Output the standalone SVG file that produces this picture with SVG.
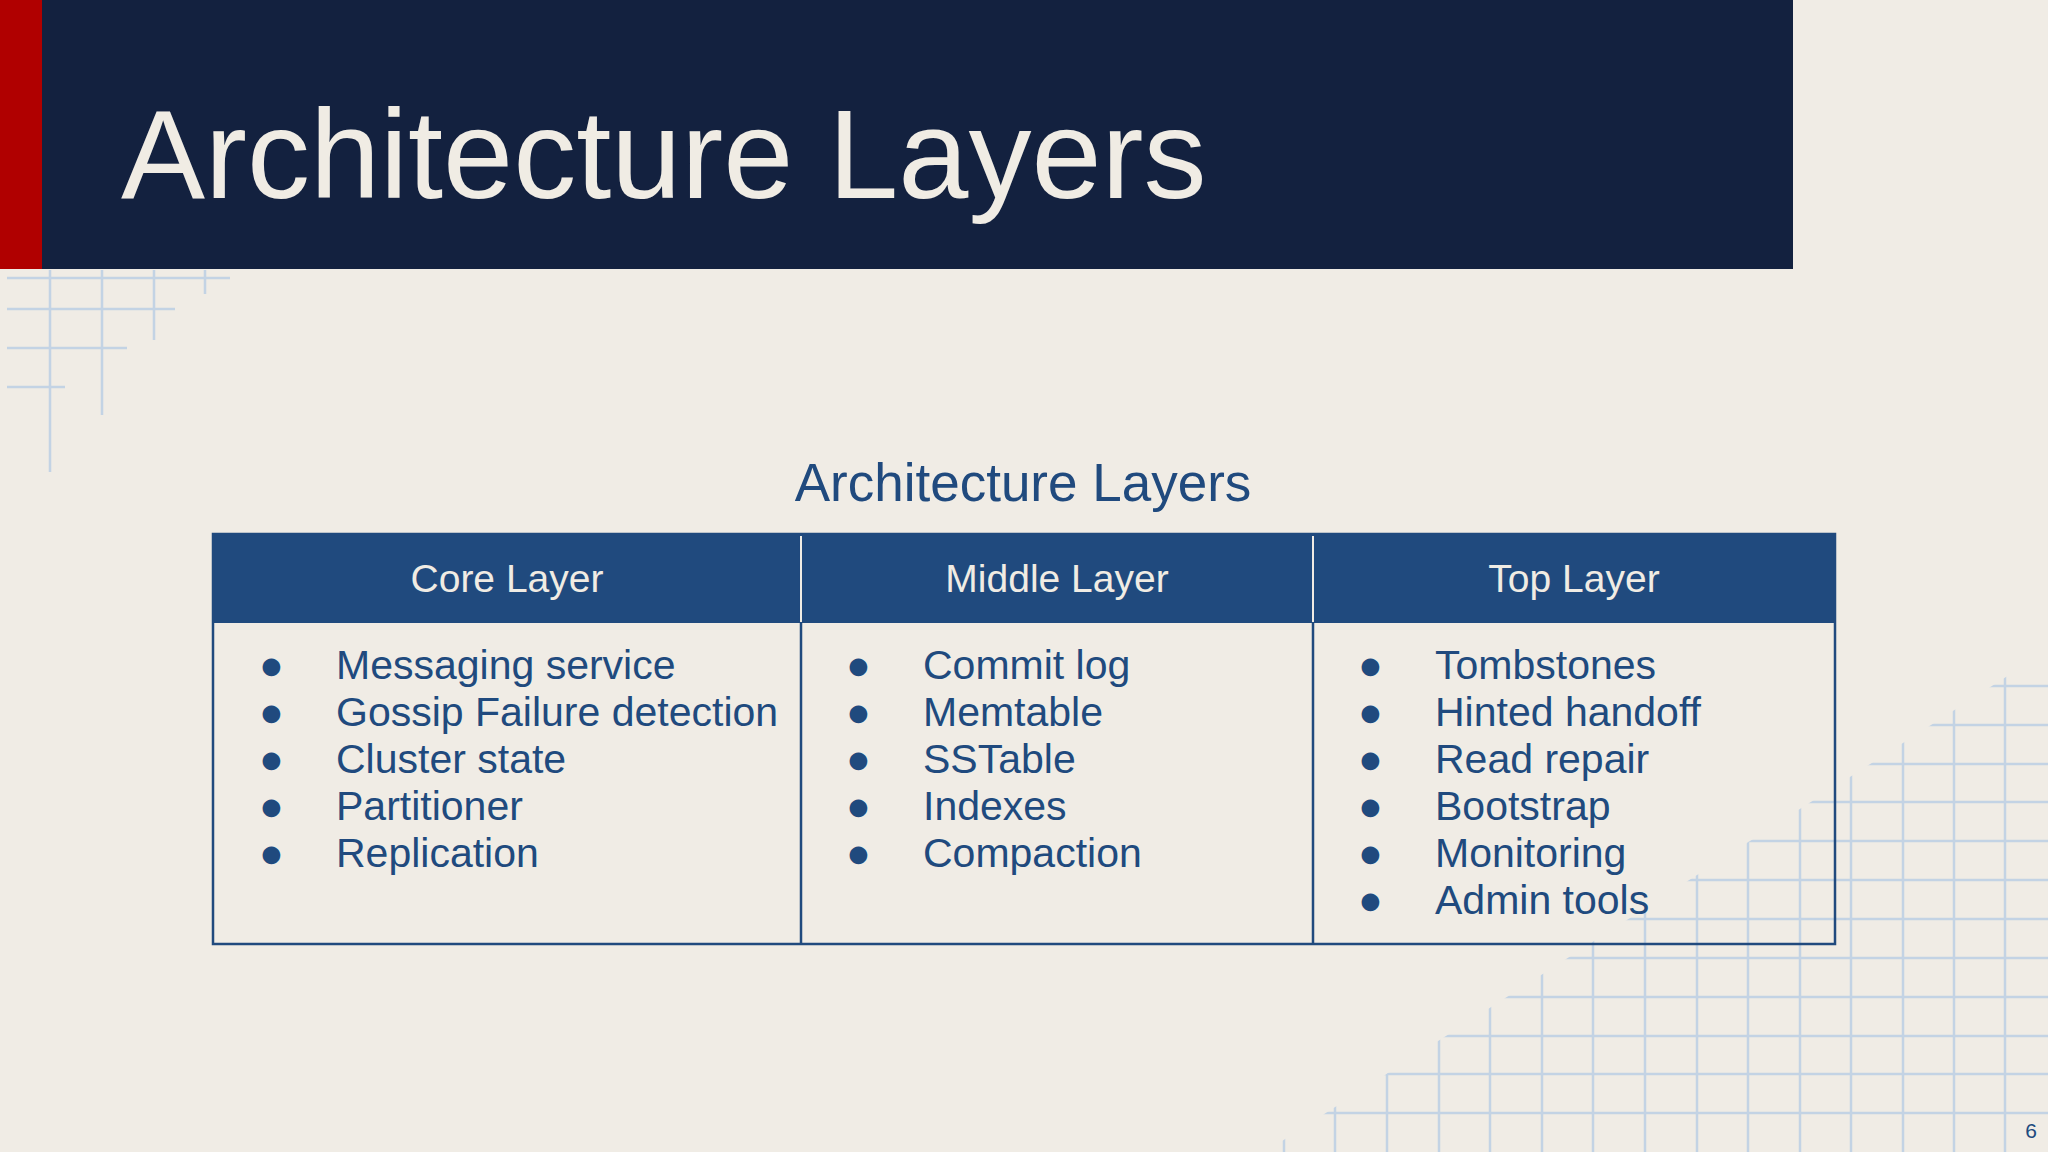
<svg xmlns="http://www.w3.org/2000/svg" width="2048" height="1152" viewBox="0 0 2048 1152">
<defs>
<style>
.g{stroke:#c3d3e4;stroke-width:2.5;fill:none}
.t{font-family:"Liberation Sans",Arial,sans-serif}
.b{font-family:"Liberation Sans",Arial,sans-serif;font-size:41px;fill:#204a7e}
.h{font-family:"Liberation Sans",Arial,sans-serif;font-size:39px;fill:#f0ece4;text-anchor:middle}
</style>
<clipPath id="br"><polygon points="1265,1152 2048,650 2048,1152"/></clipPath>
</defs>
<rect width="2048" height="1152" fill="#f0ece5"/>
<g id="grid-tl" class="g">
<line x1="50" y1="270" x2="50" y2="472"/>
<line x1="102" y1="270" x2="102" y2="415"/>
<line x1="154" y1="270" x2="154" y2="340"/>
<line x1="205" y1="270" x2="205" y2="294"/>
<line x1="7" y1="278" x2="230" y2="278"/>
<line x1="7" y1="309" x2="175" y2="309"/>
<line x1="7" y1="348" x2="127" y2="348"/>
<line x1="7" y1="387" x2="65" y2="387"/>
</g>
<g id="grid-br" class="g" clip-path="url(#br)">
<line x1="1284" y1="600" x2="1284" y2="1152"/><line x1="1335" y1="600" x2="1335" y2="1152"/><line x1="1387" y1="600" x2="1387" y2="1152"/><line x1="1439" y1="600" x2="1439" y2="1152"/><line x1="1490" y1="600" x2="1490" y2="1152"/><line x1="1542" y1="600" x2="1542" y2="1152"/><line x1="1593" y1="600" x2="1593" y2="1152"/><line x1="1645" y1="600" x2="1645" y2="1152"/><line x1="1697" y1="600" x2="1697" y2="1152"/><line x1="1748" y1="600" x2="1748" y2="1152"/><line x1="1800" y1="600" x2="1800" y2="1152"/><line x1="1851" y1="600" x2="1851" y2="1152"/><line x1="1903" y1="600" x2="1903" y2="1152"/><line x1="1954" y1="600" x2="1954" y2="1152"/><line x1="2005" y1="600" x2="2005" y2="1152"/>
<line x1="1200" y1="1113" x2="2048" y2="1113"/><line x1="1200" y1="1074" x2="2048" y2="1074"/><line x1="1200" y1="1036" x2="2048" y2="1036"/><line x1="1200" y1="997" x2="2048" y2="997"/><line x1="1200" y1="958" x2="2048" y2="958"/><line x1="1200" y1="919" x2="2048" y2="919"/><line x1="1200" y1="880" x2="2048" y2="880"/><line x1="1200" y1="841" x2="2048" y2="841"/><line x1="1200" y1="802" x2="2048" y2="802"/><line x1="1200" y1="764" x2="2048" y2="764"/><line x1="1200" y1="725" x2="2048" y2="725"/><line x1="1200" y1="686" x2="2048" y2="686"/>
</g>
<g id="header">
<rect x="0" y="0" width="42" height="269" fill="#b00000"/>
<rect x="42" y="0" width="1751" height="269" fill="#13213f"/>
<text class="t" x="121" y="198" font-size="126" fill="#f0ece4">Architecture Layers</text>
</g>
<g id="subtitle"><text class="t" x="1023" y="501" font-size="53" fill="#204a7e" text-anchor="middle">Architecture Layers</text></g>
<g id="table">
<rect x="213" y="534" width="1622" height="89" fill="#204a7e"/>
<rect x="213" y="534" width="1622" height="410" fill="none" stroke="#204a7e" stroke-width="2.5"/>
<line x1="801" y1="534" x2="801" y2="944" stroke="#204a7e" stroke-width="2.5"/>
<line x1="1313" y1="534" x2="1313" y2="944" stroke="#204a7e" stroke-width="2.5"/>
<line x1="801" y1="536" x2="801" y2="622" stroke="#f0ece4" stroke-width="2"/>
<line x1="1313" y1="536" x2="1313" y2="622" stroke="#f0ece4" stroke-width="2"/>
</g>
<g id="col-core">
<text class="h" x="507" y="592">Core Layer</text>
<g class="b"><text x="259" y="679">●</text><text x="259" y="726">●</text><text x="259" y="773">●</text><text x="259" y="820">●</text><text x="259" y="867">●</text></g>
<text class="b" x="336" y="679">Messaging service</text>
<text class="b" x="336" y="726">Gossip Failure detection</text>
<text class="b" x="336" y="773">Cluster state</text>
<text class="b" x="336" y="820">Partitioner</text>
<text class="b" x="336" y="867">Replication</text>
</g>
<g id="col-middle">
<text class="h" x="1057" y="592">Middle Layer</text>
<g class="b"><text x="846" y="679">●</text><text x="846" y="726">●</text><text x="846" y="773">●</text><text x="846" y="820">●</text><text x="846" y="867">●</text></g>
<text class="b" x="923" y="679">Commit log</text>
<text class="b" x="923" y="726">Memtable</text>
<text class="b" x="923" y="773">SSTable</text>
<text class="b" x="923" y="820">Indexes</text>
<text class="b" x="923" y="867">Compaction</text>
</g>
<g id="col-top">
<text class="h" x="1574" y="592">Top Layer</text>
<g class="b"><text x="1358" y="679">●</text><text x="1358" y="726">●</text><text x="1358" y="773">●</text><text x="1358" y="820">●</text><text x="1358" y="867">●</text><text x="1358" y="914">●</text></g>
<text class="b" x="1435" y="679">Tombstones</text>
<text class="b" x="1435" y="726">Hinted handoff</text>
<text class="b" x="1435" y="773">Read repair</text>
<text class="b" x="1435" y="820">Bootstrap</text>
<text class="b" x="1435" y="867">Monitoring</text>
<text class="b" x="1435" y="914">Admin tools</text>
</g>
<text class="t" x="2031" y="1138" font-size="21" fill="#204a7e" text-anchor="middle">6</text>
</svg>
